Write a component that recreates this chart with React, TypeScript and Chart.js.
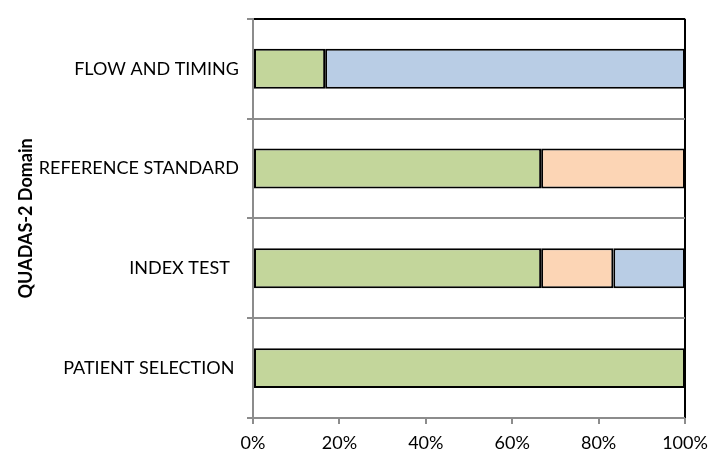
import React, { useEffect, useRef } from "react";
import { Chart, registerables } from "chart.js";

Chart.register(...registerables);

const categories = ["FLOW AND TIMING", "REFERENCE STANDARD", "INDEX TEST  ", "PATIENT SELECTION "];
const lowRisk = [16.7, 66.7, 66.7, 100];
const highRisk = [null, 33.3, 16.7, null];
const unclearRisk = [83.3, null, 16.6, null];
const xTickValues = [0, 20, 40, 60, 80, 100];
const axisTitle = "QUADAS-2 Domain";

const FONT = "Lato, 'Open Sans', sans-serif";

export default function App() {
  const ref = useRef<HTMLCanvasElement | null>(null);

  useEffect(() => {
    document.body.style.margin = "0";
    const canvas = ref.current;
    if (!canvas) return;
    const chart = new Chart(canvas, {
      type: "bar",
      data: {
        labels: categories,
        datasets: [
          { label: "Low", data: lowRisk, backgroundColor: "#C3D69B" },
          { label: "High", data: highRisk, backgroundColor: "#FCD5B5" },
          { label: "Unclear", data: unclearRisk, backgroundColor: "#B9CDE5" },
        ].map((d) => ({
          ...d,
          borderColor: "#000000",
          borderWidth: 2,
          borderSkipped: false as any,
          barPercentage: 0.4,
          categoryPercentage: 1,
        })),
      },
      options: {
        indexAxis: "y",
        animation: false,
        responsive: false,
        maintainAspectRatio: false,
        layout: { padding: { top: 17, right: 40, left: 0, bottom: 0 } },
        plugins: { legend: { display: false }, tooltip: { enabled: false } },
        scales: {
          x: {
            stacked: true,
            min: 0,
            max: 100,
            afterBuildTicks: (scale: any) => {
              scale.ticks = xTickValues.map((v) => ({ value: v }));
            },
            afterFit: (scale: any) => {
              scale.height = 47;
            },
            border: { display: false },
            grid: {
              drawOnChartArea: true,
              drawTicks: true,
              tickLength: 6,
              lineWidth: 2,
              color: (ctx: any) => (ctx.tick && ctx.tick.value === 100 ? "#000000" : "rgba(0,0,0,0)"),
              tickColor: "#8c8c8c",
            },
            ticks: {
              padding: 8,
              color: "#000000",
              font: { family: FONT, size: 18 },
              callback: (v: any) => v + "%",
            },
          },
          y: {
            stacked: true,
            afterFit: (scale: any) => {
              scale.width = 253;
            },
            border: { display: true, color: "#8c8c8c", width: 2 },
            grid: {
              offset: true,
              drawTicks: true,
              tickLength: 6,
              lineWidth: 2,
              color: (ctx: any) =>
                ctx.index === 0 ? "#000000" : ctx.index === categories.length ? "rgba(0,0,0,0)" : "#8c8c8c",
              tickColor: "#8c8c8c",
            },
            ticks: {
              padding: 8,
              color: "#000000",
              font: { family: FONT, size: 18 },
            },
            title: {
              display: true,
              text: axisTitle,
              color: "#000000",
              font: { family: FONT, size: 18, weight: "bold" },
              padding: { top: 15, bottom: 0 },
            },
          },
        },
      },
    });
    return () => chart.destroy();
  }, []);

  return (
    <div style={{ width: 725, height: 465 }}>
      <canvas ref={ref} width={725} height={465} style={{ display: "block" }} />
    </div>
  );
}
